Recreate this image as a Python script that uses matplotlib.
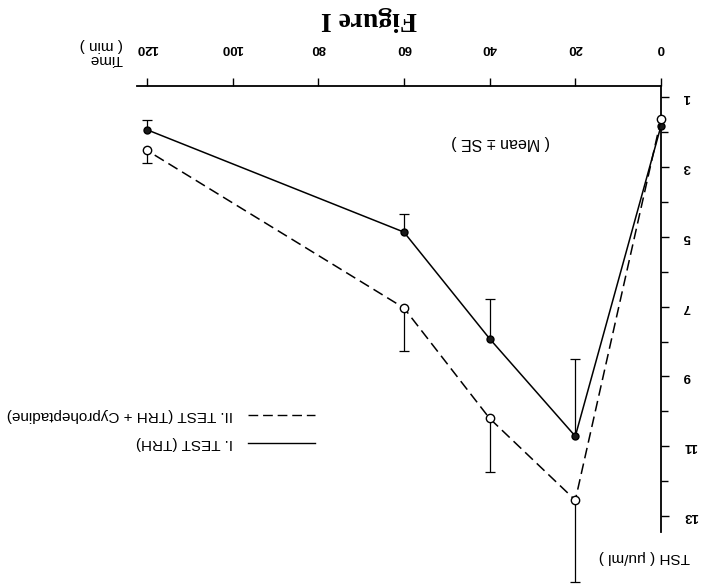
import numpy as np
import matplotlib
matplotlib.use('Agg')
import matplotlib.pyplot as plt
from matplotlib.ticker import MultipleLocator
from matplotlib.lines import Line2D

time_min = [0, 20, 40, 60, 120]
tsh_trh = [1.83, 10.71, 7.92, 4.87, 1.94]
se_trh = [0.0, 2.22, 1.15, 0.53, 0.29]
tsh_cypro = [1.64, 12.54, 10.20, 7.04, 2.53]
se_cypro = [0.0, 2.34, 1.52, 1.22, 0.36]
x_ticks = [0, 20, 40, 60, 80, 100, 120]
y_ticks = [1, 3, 5, 7, 9, 11, 13]
series_labels = ['I. TEST (TRH)', 'II. TEST (TRH + Cyproheptadine)']

plt.rcParams.update({
    'font.family': ['Liberation Sans', 'DejaVu Sans'],
    'font.size': 9,
})

W, H = 704, 586
fig = plt.figure(figsize=(W / 100, H / 100), dpi=100)
ax = fig.add_axes([137 / W, 54 / H, 524 / W, 446 / H])

dash = (0, (7, 3.5))

# one-sided error bars: TRH goes down, TRH + cyproheptadine goes up
t = np.array(time_min)
y1, e1 = np.array(tsh_trh), np.array(se_trh)
y2, e2 = np.array(tsh_cypro), np.array(se_cypro)
ax.vlines(t[1:], y1[1:] - e1[1:], y1[1:], color='k', lw=0.9, clip_on=False)
ax.plot(t[1:], y1[1:] - e1[1:], ls='none', marker='_', ms=7, mew=0.9,
        color='k', clip_on=False)
ax.vlines(t[1:], y2[1:], y2[1:] + e2[1:], color='k', lw=0.9, clip_on=False)
ax.plot(t[1:], y2[1:] + e2[1:], ls='none', marker='_', ms=7, mew=0.9,
        color='k', clip_on=False)

ax.plot(t, y1, color='k', lw=1.1, marker='o', ms=5, mfc='#1a1a1a',
        mec='k', clip_on=False, zorder=3)
ax.plot(t, y2, color='k', lw=1.1, ls=dash, marker='o', ms=6, mfc='white',
        mec='k', clip_on=False, zorder=3)

ax.set_xlim(122.3, 0)
ax.set_ylim(13.45, 0.69)
ax.set_xticks(x_ticks)
ax.set_yticks(y_ticks)
ax.yaxis.set_minor_locator(MultipleLocator(1))

for side in ['left', 'bottom']:
    ax.spines[side].set_visible(False)
for side in ['top', 'right']:
    ax.spines[side].set_linewidth(1.3)

ax.xaxis.set_ticks_position('top')
ax.yaxis.set_ticks_position('right')
ax.tick_params(direction='out', length=6, width=1, labelsize=9.5,
               labelrotation=180)
ax.tick_params(axis='x', pad=17)
ax.tick_params(axis='y', pad=10)
ax.tick_params(which='minor', direction='out', length=5, width=1)
for lab in ax.get_xticklabels() + ax.get_yticklabels():
    lab.set_fontweight('bold')
for lab in ax.get_yticklabels():
    lab.set_verticalalignment('center')

# titles and labels, all upside down like the scan
fig.text(369 / W, 1 - 19 / H, 'Figure I', rotation=180, ha='center',
         va='center', family='Liberation Serif', weight='bold', fontsize=20)
fig.text(501 / W, 1 - 142 / H, '( Mean ± SE )', rotation=180, ha='center',
         va='center', fontsize=11.5)
fig.text(644 / W, 1 - 557 / H, 'TSH ( μu/ml )', rotation=180, ha='center',
         va='center', fontsize=11)
fig.text(123 / W, 1 - 52 / H, 'Time\n( min )', rotation=180, ha='right',
         va='center', multialignment='left', fontsize=11, linespacing=0.95)

# hand-made legend
for label, ls, ypix in [(series_labels[1], dash, 415), (series_labels[0], '-', 443)]:
    fig.add_artist(Line2D([248 / W, 315 / W], [1 - ypix / H] * 2,
                          transform=fig.transFigure, color='k', lw=1.0, ls=ls))
    fig.text(233 / W, 1 - ypix / H, label, rotation=180, ha='right',
             va='center', fontsize=11)

fig.savefig('out.png', dpi=100)
